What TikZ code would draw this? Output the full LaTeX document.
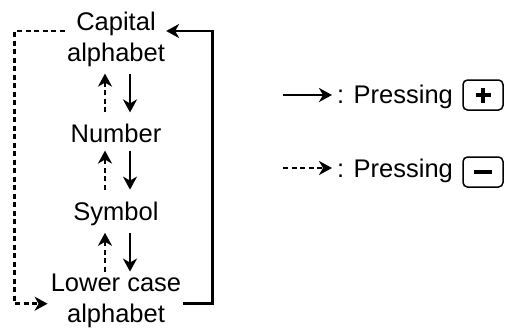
\documentclass[tikz,border=0pt]{standalone}
\usepackage{fontspec}
\setmainfont{Liberation Sans}
\usetikzlibrary{arrows.meta,positioning,calc}
\tikzset{
  mode/.style={inner sep=0pt, align=center, font=\fontsize{25.5}{31}\selectfont},
  legtxt/.style={inner sep=0pt, anchor=base west, font=\fontsize{25.5}{31}\selectfont},
  keybox/.style={draw, rounded corners=4.5pt, line width=1.5pt, minimum width=40pt, minimum height=30pt, inner sep=0pt},
  keysym/.style={line width=4.2pt},
  plusarr/.style={line width=2.8pt, -{Stealth[length=13pt,width=14pt,inset=4pt]}},
  minusarr/.style={line width=2.8pt, dash pattern=on 5pt off 3.5pt, -{Stealth[length=13pt,width=14pt,inset=4pt]}},
}
\begin{document}
\begin{tikzpicture}[x=1pt,y=-1pt]
  \useasboundingbox (0,0) rectangle (510,327);
  % character modes
  \node[mode] (cap) at (116,39) {Capital\\alphabet};
  \node[mode] (num) at (116,133) {Number};
  \node[mode] (sym) at (116,213.7) {Symbol};
  \node[mode] (low) at (116,300.7) {Lower case\\alphabet};
  % steps between neighbours
  \draw[plusarr, shorten <=7pt, shorten >=11pt] ([xshift=14pt]cap.south) -- ([xshift=14pt]num.north);
  \draw[minusarr, shorten <=11pt, shorten >=7pt] ([xshift=-11pt]num.north) -- ([xshift=-11pt]cap.south);
  \draw[plusarr, shorten <=8pt, shorten >=12pt] ([xshift=14pt]num.south) -- ([xshift=14pt]sym.north);
  \draw[minusarr, shorten <=12pt, shorten >=8pt] ([xshift=-11pt]sym.north) -- ([xshift=-11pt]num.south);
  \draw[plusarr, shorten <=7pt, shorten >=2pt] ([xshift=14pt]sym.south) -- ([xshift=14pt]low.north);
  \draw[minusarr, shorten <=2pt, shorten >=7pt] ([xshift=-11pt]low.north) -- ([xshift=-11pt]sym.south);
  % wrap around
  \draw[minusarr, shorten <=2pt, shorten >=3pt] ([yshift=8pt]cap.west) -- ++(-52pt,0) |- ([yshift=-3pt]low.west);
  \draw[plusarr, shorten <=2pt, shorten >=1pt] ([yshift=-3pt]low.east) -- ++(31pt,0) |- ([yshift=8pt]cap.east);
  % legend
  \coordinate (lp) at (283,95);
  \coordinate (lm) at (283,168);
  \node[legtxt] (tp) at (337,103) {: Pressing};
  \node[legtxt] (tm) at (337,177) {: Pressing};
  \node[keybox] (plusk) at (483,95) {};
  \node[keybox] (minusk) at (483,172) {};
  \draw[plusarr, shorten >=5pt] (lp) -- (lp -| tp.west);
  \draw[minusarr, shorten >=5pt] (lm) -- (lm -| tm.west);
  \draw[keysym] ([xshift=-7.5pt]plusk.center) -- ([xshift=7.5pt]plusk.center);
  \draw[keysym] ([yshift=-7.5pt]plusk.center) -- ([yshift=7.5pt]plusk.center);
  \draw[keysym] ([xshift=-9pt]minusk.center) -- ([xshift=9pt]minusk.center);
\end{tikzpicture}
\end{document}
